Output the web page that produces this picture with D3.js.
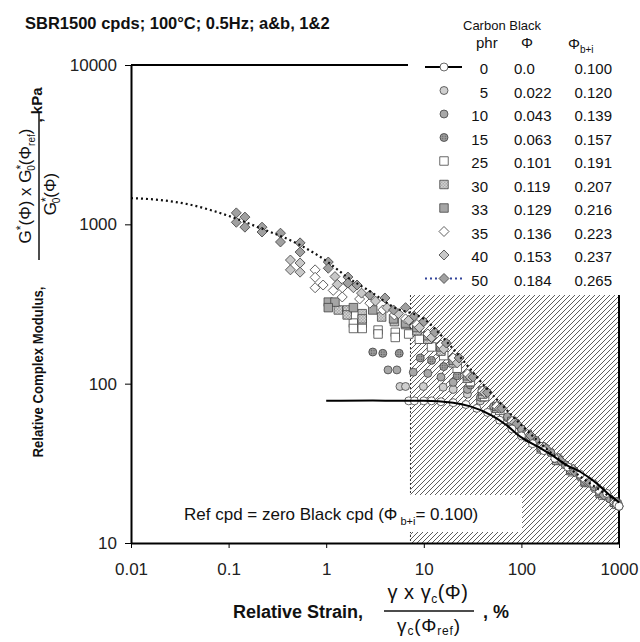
<!DOCTYPE html>
<html lang="en">
<head>
<meta charset="UTF-8">
<title>SBR1500 relative complex modulus</title>
<script src="https://d3js.org/d3.v7.min.js"></script>
<style>
    body { margin: 0; background: #fff; }
    svg { display: block; font-family: "Liberation Sans", Arial, sans-serif; }
</style>
</head>
<body>
<div id="chart"></div>
<script>
    // axis ticks
    const strainTicks = [0.01, 0.1, 1, 10, 100, 1000];
    const strainTickLabels = ["0.01", "0.1", "1", "10", "100", "1000"];
    const modTicks = [10, 100, 1000, 10000];
    const modTickLabels = ["10", "100", "1000", "10000"];

    // legend table
    const phrLabels = ["0", "5", "10", "15", "25", "30", "33", "35", "40", "50"];
    const phiLabels = ["0.0", "0.022", "0.043", "0.063", "0.101", "0.119", "0.129", "0.136", "0.153", "0.184"];
    const phiBiLabels = ["0.100", "0.120", "0.139", "0.157", "0.191", "0.207", "0.216", "0.223", "0.237", "0.265"];

    // hatched region (strain range, modulus range)
    const hatchStrain = [7.3, 1000];
    const hatchModulus = [10, 360];

    // fitted lines [strain %, modulus kPa]
    const refFit = [[1, 78], [3, 78.5], [7, 78], [10, 78], [20, 76], [30, 72], [50, 63], [70, 55],
        [100, 46], [150, 40], [200, 36], [300, 30.5], [400, 28], [600, 23.5], [800, 20], [1000, 18]];
    const cb50Fit = [[0.01, 1460], [0.02, 1420], [0.04, 1330], [0.065, 1230], [0.1, 1130], [0.2, 960],
        [0.54, 741], [1, 590], [1.64, 467], [3, 370], [4.87, 303], [10, 255], [20, 165], [40, 100],
        [100, 55], [300, 30], [600, 22], [1000, 18]];

    // measured points [strain %, modulus kPa]
    const cb0 = [[7, 78], [8, 78], [10, 78], [12, 78], [15, 77], [20, 76], [27, 74], [35, 70], [45, 66],
        [60, 59], [80, 52], [100, 47], [130, 42], [170, 38], [220, 34], [300, 30], [400, 27], [550, 23.5],
        [750, 20.5], [950, 17.5], [1000, 17]];
    const cb5 = [[5.7, 96], [6.5, 96], [9.9, 96], [15.8, 95], [20, 92], [28, 86], [38, 78], [52, 70],
        [72, 61], [100, 52], [140, 44], [200, 37], [280, 31], [400, 26], [560, 22], [800, 19], [1000, 17]];
    const cb10 = [[4.3, 122], [5.3, 122], [7.8, 118], [11, 116], [15, 110], [20, 102], [28, 92], [38, 82],
        [52, 72], [72, 62], [100, 52], [140, 44], [200, 37], [280, 31], [400, 26.5], [560, 22.5], [800, 19], [1000, 17]];
    const cb15 = [[3.0, 158], [3.8, 155], [5.6, 155], [9.2, 145], [12, 140], [16, 128], [22, 112], [30, 98],
        [42, 82], [60, 68], [85, 56], [120, 46], [170, 39], [240, 33], [340, 28], [480, 24], [680, 20], [950, 17.5]];
    const cb25 = [[1.9, 240], [2.34, 240], [1.9, 222], [2.34, 222], [3.4, 217], [5.1, 210], [3.4, 205],
        [5.1, 195], [7, 205], [9, 190], [12, 170], [16, 150], [22, 125], [30, 103], [42, 83], [60, 68],
        [85, 56], [120, 46], [170, 39], [240, 33], [340, 28], [480, 24], [680, 20], [950, 17.5]];
    const cb30 = [[1.33, 290], [1.64, 290], [2.34, 275], [3.7, 262], [1.64, 270], [2.34, 255], [5, 245],
        [6.5, 235], [8.5, 215], [11, 190], [15, 160], [20, 135], [28, 108], [40, 86], [56, 70], [80, 57],
        [115, 47], [160, 39], [230, 33], [320, 28.5], [450, 24], [640, 20.5], [900, 18]];
    const cb33 = [[1.05, 325], [1.23, 325], [1.05, 300], [1.9, 300], [3.0, 290], [4.9, 255], [6.5, 240],
        [8.5, 225], [11, 200], [15, 170], [20, 140], [28, 112], [40, 90], [56, 72], [80, 58], [115, 48],
        [160, 40], [230, 34], [320, 29], [450, 24.5], [640, 21], [900, 18]];
    const cb35 = [[0.77, 518], [0.77, 465], [0.77, 400], [0.93, 416], [1.18, 385], [1.46, 400], [1.46, 350],
        [2.2, 340], [2.8, 320], [3.8, 290], [5, 270], [6.5, 255], [8.5, 235], [11, 205], [15, 175], [20, 145],
        [28, 115], [40, 90], [56, 72], [80, 58], [115, 48], [160, 40], [230, 34], [320, 29], [450, 25],
        [640, 21], [900, 18]];
    const cb40 = [[0.43, 597], [0.43, 518], [0.54, 572], [0.54, 501], [1.23, 470], [1.3, 420], [1.9, 400],
        [2.3, 370], [3.2, 330], [4.2, 300], [5.5, 275], [7, 250], [9, 225], [12, 195], [16, 165], [22, 135],
        [30, 110], [42, 88], [60, 70], [85, 57], [120, 47], [170, 40], [240, 34], [340, 29], [480, 24],
        [680, 20], [950, 17.5]];
    const cb50 = [[0.12, 1180], [0.147, 1110], [0.12, 1030], [0.147, 960], [0.22, 960], [0.22, 895],
        [0.34, 880], [0.34, 775], [0.54, 765], [0.54, 670], [1.05, 580], [1.05, 530], [1.67, 467],
        [1.67, 428], [2.07, 416], [2.8, 360], [4.0, 345], [4.9, 290], [6.5, 300], [8, 265], [10, 245],
        [13, 210], [17, 180], [23, 145], [32, 110], [45, 88], [63, 70], [90, 56], [125, 47], [180, 39],
        [250, 33], [350, 28], [500, 24], [700, 20], [950, 18]];

    const W = 640, H = 642;
    const svg = d3.select("#chart").append("svg")
        .attr("width", W)
        .attr("height", H);

    const x = d3.scaleLog().domain([0.01, 1000]).range([131, 619]);
    const y = d3.scaleLog().domain([10, 10000]).range([543, 65]);

    const defs = svg.append("defs");
    const hatch = defs.append("pattern")
        .attr("id", "hatch")
        .attr("patternUnits", "userSpaceOnUse")
        .attr("width", 5).attr("height", 5);
    hatch.append("path")
        .attr("d", "M-1,1 l2,-2 M0,5 l5,-5 M4,6 l2,-2")
        .attr("stroke", "#4a4a4a")
        .attr("stroke-width", 0.9);

    const dots = defs.append("pattern")
        .attr("id", "dots")
        .attr("patternUnits", "userSpaceOnUse")
        .attr("width", 2.5).attr("height", 2.5);
    dots.append("rect").attr("width", 2.5).attr("height", 2.5).attr("fill", "#9a9a9a");
    dots.append("circle").attr("cx", 1.25).attr("cy", 1.25).attr("r", 0.6).attr("fill", "#555");

    const check = defs.append("pattern")
        .attr("id", "check")
        .attr("patternUnits", "userSpaceOnUse")
        .attr("width", 3).attr("height", 3);
    check.append("rect").attr("width", 3).attr("height", 3).attr("fill", "#e4e4e4");
    check.append("rect").attr("width", 1.5).attr("height", 1.5).attr("fill", "#999");
    check.append("rect").attr("x", 1.5).attr("y", 1.5).attr("width", 1.5).attr("height", 1.5).attr("fill", "#999");

    // hatched area
    const hx0 = x(hatchStrain[0]), hx1 = x(hatchStrain[1]);
    const hy0 = y(hatchModulus[1]), hy1 = y(hatchModulus[0]);
    svg.append("rect")
        .attr("x", hx0).attr("y", hy0)
        .attr("width", hx1 - hx0).attr("height", hy1 - hy0)
        .attr("fill", "url(#hatch)");
    svg.append("line")
        .attr("x1", hx0).attr("x2", hx0).attr("y1", hy0).attr("y2", hy1)
        .attr("stroke", "#333").attr("stroke-width", 1)
        .attr("stroke-dasharray", "2,2");
    svg.append("line")
        .attr("x1", hx1).attr("x2", hx1).attr("y1", hy0).attr("y2", hy1)
        .attr("stroke", "#000").attr("stroke-width", 2);

    // series styles
    const series = [
        {data: cb5, shape: "circle", fill: "#cfcfcf"},
        {data: cb10, shape: "circle", fill: "#a8a8a8"},
        {data: cb15, shape: "circle", fill: "url(#dots)"},
        {data: cb25, shape: "square", fill: "#fff"},
        {data: cb30, shape: "square", fill: "url(#check)"},
        {data: cb33, shape: "square", fill: "#a5a5a5"},
        {data: cb35, shape: "diamond", fill: "#fff"},
        {data: cb40, shape: "diamond", fill: "#c8c8c8"},
        {data: cb50, shape: "diamond", fill: "#a0a0a0"},
        {data: cb0, shape: "circle", fill: "#fff"}
    ];
    const legendStyle = [
        {shape: "circle", fill: "#fff"},
        {shape: "circle", fill: "#cfcfcf"},
        {shape: "circle", fill: "#a8a8a8"},
        {shape: "circle", fill: "url(#dots)"},
        {shape: "square", fill: "#fff"},
        {shape: "square", fill: "url(#check)"},
        {shape: "square", fill: "#a5a5a5"},
        {shape: "diamond", fill: "#fff"},
        {shape: "diamond", fill: "#c8c8c8"},
        {shape: "diamond", fill: "#a0a0a0"}
    ];

    function symbolPath(shape) {
        if (shape === "circle") return d3.symbol(d3.symbolCircle, 50)();
        if (shape === "square") return d3.symbol(d3.symbolSquare, 72)();
        return d3.symbol(d3.symbolSquare, 50)();
    }

    function drawMarker(g, shape, fill, px, py) {
        g.append("path")
            .attr("d", symbolPath(shape))
            .attr("transform", `translate(${px},${py})` + (shape === "diamond" ? " rotate(45)" : ""))
            .attr("fill", fill)
            .attr("stroke", "#444")
            .attr("stroke-width", 0.8);
    }

    const marks = svg.append("g");
    series.forEach(s => {
        s.data.forEach(d => drawMarker(marks, s.shape, s.fill, x(d[0]), y(d[1])));
    });

    const line = d3.line()
        .x(d => x(d[0]))
        .y(d => y(d[1]))
        .curve(d3.curveMonotoneX);

    svg.append("path")
        .datum(cb50Fit)
        .attr("d", line)
        .attr("fill", "none")
        .attr("stroke", "#111")
        .attr("stroke-width", 2.2)
        .attr("stroke-dasharray", "2,3");

    svg.append("path")
        .datum(refFit)
        .attr("d", line)
        .attr("fill", "none")
        .attr("stroke", "#000")
        .attr("stroke-width", 2);

    // annotation box
    svg.append("rect")
        .attr("x", 175).attr("y", 495)
        .attr("width", 347).attr("height", 37)
        .attr("fill", "#fff");
    const note = svg.append("text")
        .attr("x", 184).attr("y", 520)
        .attr("font-size", 17)
        .attr("fill", "#111");
    note.append("tspan").text("Ref cpd = zero Black cpd (Φ");
    note.append("tspan").attr("dx", 3).attr("dy", 5).attr("font-size", 11).text("b+i");
    note.append("tspan").attr("dy", -5).text("= 0.100)");

    // axes
    const xAxis = svg.append("g")
        .attr("transform", `translate(0,${y(10)})`)
        .call(d3.axisBottom(x).tickValues(strainTicks).tickSize(5).tickSizeOuter(0)
            .tickFormat((d, i) => strainTickLabels[i]));
    xAxis.select(".domain").attr("stroke-width", 2);
    xAxis.selectAll("text").attr("font-size", 17).attr("fill", "#222").attr("dy", "1.4em")
        .attr("font-family", "Liberation Sans, Arial, sans-serif");

    const yAxis = svg.append("g")
        .attr("transform", `translate(${x(0.01)},0)`)
        .call(d3.axisLeft(y).tickValues(modTicks).tickSize(6).tickSizeOuter(0)
            .tickFormat((d, i) => modTickLabels[i]));
    yAxis.select(".domain").attr("stroke-width", 2);
    yAxis.selectAll("text").attr("font-size", 17).attr("fill", "#222").attr("x", -14)
        .attr("font-family", "Liberation Sans, Arial, sans-serif");

    // top frame segment
    svg.append("line")
        .attr("x1", x(0.01)).attr("x2", 408)
        .attr("y1", y(10000)).attr("y2", y(10000))
        .attr("stroke", "#000").attr("stroke-width", 2);

    // title
    svg.append("text")
        .attr("x", 25).attr("y", 29)
        .attr("font-size", 16.5).attr("font-weight", "bold")
        .attr("fill", "#111")
        .text("SBR1500 cpds; 100°C; 0.5Hz; a&b, 1&2");

    // legend
    const lg = svg.append("g").attr("fill", "#111");
    lg.append("text").attr("x", 463).attr("y", 30).attr("font-size", 13).text("Carbon Black");
    lg.append("text").attr("x", 476).attr("y", 48).attr("font-size", 15).text("phr");
    lg.append("text").attr("x", 521).attr("y", 48).attr("font-size", 15).text("Φ");
    const phb = lg.append("text").attr("x", 568).attr("y", 49).attr("font-size", 15);
    phb.append("tspan").text("Φ");
    phb.append("tspan").attr("dy", 4).attr("font-size", 10).text("b+i");

    const rowBase = 74, rowStep = 23.5;
    phrLabels.forEach((lab, i) => {
        const by = rowBase + i * rowStep;
        const my = by - 7;
        lg.append("text").attr("x", 488).attr("y", by).attr("font-size", 15)
            .attr("text-anchor", "end").text(lab);
        lg.append("text").attr("x", 514).attr("y", by).attr("font-size", 15).text(phiLabels[i]);
        lg.append("text").attr("x", 612).attr("y", by).attr("font-size", 15)
            .attr("text-anchor", "end").text(phiBiLabels[i]);
        if (i === 0) {
            lg.append("line").attr("x1", 425).attr("x2", 462).attr("y1", my).attr("y2", my)
                .attr("stroke", "#000").attr("stroke-width", 2);
        }
        if (i === 9) {
            lg.append("line").attr("x1", 425).attr("x2", 462).attr("y1", my).attr("y2", my)
                .attr("stroke", "#33449a").attr("stroke-width", 2).attr("stroke-dasharray", "2,3");
        }
        drawMarker(lg, legendStyle[i].shape, legendStyle[i].fill, 444, my);
    });

    // y axis title
    const yt = svg.append("g").attr("fill", "#111");
    yt.append("text")
        .attr("transform", "translate(43,372) rotate(-90)")
        .attr("text-anchor", "middle")
        .attr("font-size", 15).attr("font-weight", "bold")
        .attr("textLength", 171).attr("lengthAdjust", "spacingAndGlyphs")
        .text("Relative Complex Modulus,");
    yt.append("text")
        .attr("transform", "translate(42,105) rotate(-90)")
        .attr("text-anchor", "middle")
        .attr("font-size", 15).attr("font-weight", "bold")
        .text(", kPa");
    const num = yt.append("text")
        .attr("transform", "translate(31,186) rotate(-90)")
        .attr("text-anchor", "middle")
        .attr("font-size", 17);
    num.append("tspan").text("G");
    num.append("tspan").attr("dy", -6).attr("font-size", 12).text("*");
    num.append("tspan").attr("dy", 6).text("(Φ) x G");
    num.append("tspan").attr("dy", -6).attr("font-size", 12).text("*");
    num.append("tspan").attr("dx", -6).attr("dy", 10).attr("font-size", 10).text("0");
    num.append("tspan").attr("dy", -4).text("(Φ");
    num.append("tspan").attr("dy", 4).attr("font-size", 10).text("ref");
    num.append("tspan").attr("dy", -4).text(")");
    yt.append("line")
        .attr("x1", 39).attr("x2", 39).attr("y1", 112).attr("y2", 260)
        .attr("stroke", "#111").attr("stroke-width", 1.5);
    const den = yt.append("text")
        .attr("transform", "translate(56,194) rotate(-90)")
        .attr("text-anchor", "middle")
        .attr("font-size", 17);
    den.append("tspan").text("G");
    den.append("tspan").attr("dy", -6).attr("font-size", 12).text("*");
    den.append("tspan").attr("dx", -6).attr("dy", 10).attr("font-size", 10).text("0");
    den.append("tspan").attr("dy", -4).text("(Φ)");

    // x axis title
    const xt = svg.append("g").attr("fill", "#111");
    xt.append("text")
        .attr("x", 233).attr("y", 618)
        .attr("font-size", 18).attr("font-weight", "bold")
        .text("Relative Strain,");
    const xnum = xt.append("text")
        .attr("x", 428).attr("y", 599)
        .attr("text-anchor", "middle")
        .attr("font-size", 20).attr("letter-spacing", 0.5);
    xnum.append("tspan").text("γ x γ");
    xnum.append("tspan").attr("dy", 4).attr("font-size", 12).text("c");
    xnum.append("tspan").attr("dy", -4).text("(Φ)");
    xt.append("line")
        .attr("x1", 384).attr("x2", 474).attr("y1", 611).attr("y2", 611)
        .attr("stroke", "#111").attr("stroke-width", 1.5);
    const xden = xt.append("text")
        .attr("x", 429).attr("y", 632)
        .attr("text-anchor", "middle")
        .attr("font-size", 19).attr("letter-spacing", 0.8);
    xden.append("tspan").text("γ");
    xden.append("tspan").attr("dy", 3).attr("font-size", 12).text("c");
    xden.append("tspan").attr("dy", -3).text("(Φ");
    xden.append("tspan").attr("dy", 3).attr("font-size", 12).text("ref");
    xden.append("tspan").attr("dy", -3).text(")");
    xt.append("text")
        .attr("x", 483).attr("y", 618)
        .attr("font-size", 18).attr("font-weight", "bold")
        .text(", %");
</script>
</body>
</html>
